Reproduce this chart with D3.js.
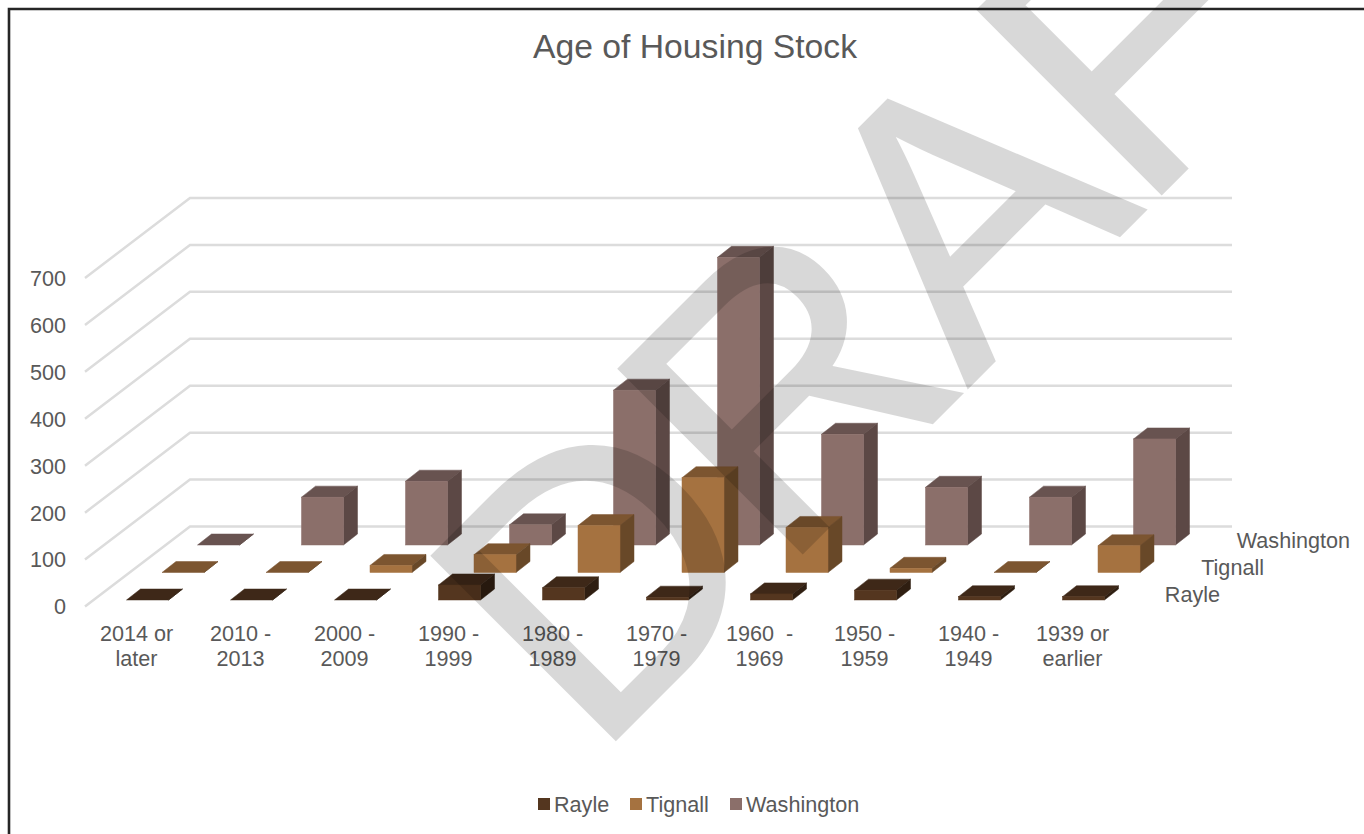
<!DOCTYPE html>
<html><head><meta charset="utf-8">
<script src="https://cdn.jsdelivr.net/npm/d3@7/dist/d3.min.js"></script>
<style>html,body{margin:0;padding:0;background:#fff;overflow:hidden}svg{display:block}text{font-family:"Liberation Sans",Arial,sans-serif;fill:#595959;white-space:pre}</style>
</head><body><svg id="c" width="1364" height="834"></svg>
<script>
const categories=[["2014 or","later"],["2010 -","2013"],["2000 -","2009"],["1990 -","1999"],["1980 -","1989"],["1970 -","1979"],["1960  -","1969"],["1950 -","1959"],["1940 -","1949"],["1939 or","earlier"]];
const seriesNames=["Rayle","Tignall","Washington"];
const rayle=[0,0,0,32,26,6,13,21,7,7];
const tignall=[0,0,15,38,100,202,96,9,0,57];
const washington=[0,102,136,43,330,613,236,123,102,226];
const yTicks=[0,100,200,300,400,500,600,700];
const frontColors=["#54361f","#a57240","#8b6f6a"];
const topColors=["#3e2818","#7c5530","#685350"];
const sideColors=["#2f1e11","#684828","#5c4845"];
const titleText="Age of Housing Stock";
const watermark="DRAFT";

const svg=d3.select("#c");
const values=[rayle,tignall,washington];
const catIdx=categories.map((d,i)=>i);
const x=d3.scalePoint().domain(catIdx).range([126.5,1062.5]);
const y=d3.scaleLinear().domain([0,700]).range([606.5,278]);
const h=v=>y(0)-y(v);
const depthX=d3.scaleLinear().domain([0,2]).range([0,71]);
const depthY=d3.scaleLinear().domain([0,2]).range([600,545]);
const barW=42,bx=14,by=11;
const wallX=85,wallDX=105,wallDY=80,wallEnd=1232;
const labelSize=21.6;

// frame
svg.append("path").attr("d","M9,834V9H1364").attr("fill","none").attr("stroke","#262626").attr("stroke-width",2.6);

// title
svg.append("text").attr("x",695).attr("y",58).attr("text-anchor","middle").attr("font-size",33.7).text(titleText);

// gridlines
svg.append("g").selectAll("path").data(yTicks).join("path")
 .attr("d",v=>d3.line()([[wallX,y(v)],[wallX+wallDX,y(v)-wallDY],[wallEnd,y(v)-wallDY]]))
 .attr("fill","none").attr("stroke","#dcdcdc").attr("stroke-width",2.5);

// value axis
const ax=svg.append("g").attr("transform","translate(66,0)").call(d3.axisLeft(y).tickValues(yTicks).tickSize(0).tickPadding(0).tickFormat(d3.format("d")));
ax.select(".domain").remove();
ax.selectAll("text").attr("font-size",labelSize).attr("font-family",null).attr("dy","0.34em");
ax.attr("font-family",null).attr("font-size",null);

// bars, back series first
[2,1,0].forEach(s=>{
 const g=svg.append("g");
 const base=depthY(s);
 const cell=g.selectAll("g").data(values[s]).join("g");
 const left=i=>x(i)+depthX(s);
 cell.append("path").attr("fill",topColors[s]).attr("stroke",topColors[s]).attr("stroke-width",.5)
  .attr("d",(v,i)=>{const l=left(i),t=base-h(v);return `M${l},${t}L${l+bx},${t-by}H${l+barW+bx}L${l+barW},${t}Z`;});
 cell.append("path").attr("fill",sideColors[s]).attr("stroke",sideColors[s]).attr("stroke-width",.5)
  .attr("d",(v,i)=>{const r=left(i)+barW,t=base-h(v);return `M${r},${t}L${r+bx},${t-by}V${base-by}L${r},${base}Z`;});
 cell.append("rect").attr("fill",frontColors[s]).attr("stroke",frontColors[s]).attr("stroke-width",.5)
  .attr("x",(v,i)=>left(i)).attr("width",barW).attr("y",v=>base-h(v)).attr("height",v=>h(v));
});

// category labels
const catG=svg.append("g").selectAll("text").data(categories).join("text")
 .attr("text-anchor","middle").attr("font-size",labelSize)
 .attr("transform",(d,i)=>`translate(${x(i)+(i===6?9:10)},0)`);
catG.selectAll("tspan").data(d=>d).join("tspan").attr("x",0).attr("y",(d,i)=>640.5+25*i).text(d=>d);

// series labels on depth axis
const depthLabelRight=[1220,1264,1350];
const depthLabelY=[601.5,574.5,547.5];
svg.append("g").selectAll("text").data(seriesNames).join("text")
 .attr("text-anchor","end").attr("font-size",labelSize)
 .attr("x",(d,i)=>depthLabelRight[i]).attr("y",(d,i)=>depthLabelY[i]).text(d=>d);

// legend
const legendSwatch=[538,630,730];
const leg=svg.append("g").selectAll("g").data(seriesNames).join("g").attr("transform",(d,i)=>`translate(${legendSwatch[i]},0)`);
leg.append("rect").attr("y",798).attr("width",12).attr("height",12).attr("fill",(d,i)=>frontColors[i]);
leg.append("text").attr("x",16).attr("y",811.5).attr("font-size",labelSize).text(d=>d);

// watermark
svg.append("text").text(watermark).attr("font-size",377).attr("letter-spacing",-8)
 .attr("transform","translate(594,761) rotate(-45)")
 .style("fill","#000").style("stroke","#000").style("stroke-width",3).style("opacity",.15);
</script></body></html>
